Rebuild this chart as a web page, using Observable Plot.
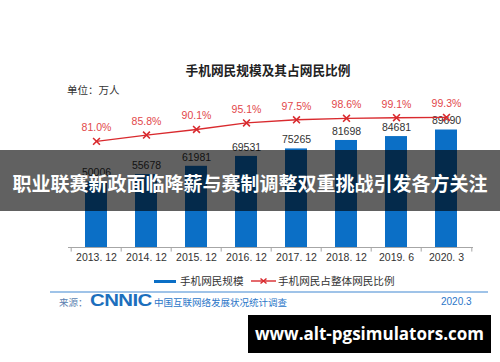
<!DOCTYPE html>
<html>
<head>
<meta charset="utf-8">
<script src="https://cdn.jsdelivr.net/npm/d3@7"></script>
<script src="https://cdn.jsdelivr.net/npm/@observablehq/plot@0.6"></script>
<style>
  html, body { margin: 0; padding: 0; background: #fff; }
  #page { position: relative; width: 500px; height: 362px; overflow: hidden; background: #fff;
          font-family: "Liberation Sans", "Noto Sans CJK SC", sans-serif; }
  .abs { position: absolute; white-space: nowrap; }
  #chart { position: absolute; left: 0; top: 95px; }
</style>
</head>
<body>
<div id="page">
  <div class="abs" id="title" style="left:0;width:536px;text-align:center;top:61px;font-size:12.7px;font-weight:bold;color:#222;font-family:'Noto Sans CJK SC',sans-serif;line-height:18px;"></div>
  <div class="abs" id="unit" style="left:67px;top:82px;font-size:10.5px;color:#333;font-family:'Noto Sans CJK SC',sans-serif;line-height:16px;"></div>
  <div id="chart"></div>
  <div class="abs" id="legend" style="left:0;top:273px;height:16px;width:500px;font-family:'Noto Sans CJK SC',sans-serif;font-size:10.6px;color:#333;line-height:16px;"></div>
  <div class="abs" style="left:50px;top:290.5px;width:438px;height:2px;background:#9fc3e8;"></div>
  <div class="abs" id="footer" style="left:0;top:293px;width:500px;height:18px;"></div>
  <div class="abs" id="banner" style="left:0;top:150px;width:500px;height:61px;background:rgba(0,0,0,0.62);color:#fff;font-family:'Noto Sans CJK SC',sans-serif;font-weight:bold;font-size:19px;line-height:61px;text-align:center;padding-top:2px;box-sizing:border-box;"></div>
  <div class="abs" id="site" style="left:248px;top:315px;width:243px;height:38px;background:#000;color:#fff;font-family:'Open Sans',sans-serif;font-weight:bold;font-size:17px;line-height:38px;text-align:center;"></div>
</div>
<script>
// ---- data ----
const periods = ["2013. 12", "2014. 12", "2015. 12", "2016. 12", "2017. 12", "2018. 12", "2019. 6", "2020. 3"];
const users = [50006, 55678, 61981, 69531, 75265, 81698, 84681, 89690];
const shares = [81.0, 85.8, 90.1, 95.1, 97.5, 98.6, 99.1, 99.3];

const titleText = "手机网民规模及其占网民比例";
const unitText = "单位：万人";
const seriesBar = "手机网民规模";
const seriesLine = "手机网民占整体网民比例";
const sourceLabel = "来源：";
const sourceLogo = "CNNIC";
const sourceName = "中国互联网络发展状况统计调查";
const sourceDate = "2020.3";
const bannerText = "职业联赛新政面临降薪与赛制调整双重挑战引发各方关注";
const siteText = "www.alt-pgsimulators.com";

const data = periods.map((p, i) => ({period: p, users: users[i], share: shares[i]}));

const blue = "#0b6fc6";
const red = "#d92a2e";
const redText = "#e2474a";

const W = 500, H = 172, mL = 68, mR = 27, mT = 21, mB = 20;
const step = (W - mL - mR) / periods.length;

const chart = Plot.plot({
  width: W,
  height: H,
  marginLeft: mL,
  marginRight: mR,
  marginTop: mT,
  marginBottom: mB,
  style: {fontFamily: "'Liberation Sans', 'Noto Sans CJK SC', sans-serif", background: "transparent", overflow: "visible"},
  x: {domain: periods, paddingInner: 0.565, paddingOuter: 0.2825, label: null},
  y: {domain: [0, 100000], axis: null, label: null},
  marks: [
    Plot.barY(data, {x: "period", y: "users", fill: blue}),
    Plot.ruleY([0], {stroke: "#a6a6a6", strokeWidth: 1}),
    Plot.ruleX(data, {x: "period", dx: -step / 2, y1: 0, y2: -3500, stroke: "#a6a6a6"}),
    Plot.ruleX(data.slice(-1), {x: "period", dx: step / 2, y1: 0, y2: -3500, stroke: "#a6a6a6"}),
    Plot.axisX({tickSize: 0, tickPadding: 6, fontSize: 10.5, fill: "#333", label: null}),
    Plot.text(data, {x: "period", y: "users", text: d => String(d.users), dy: -9, fontSize: 10.5, fill: "#333"}),
    Plot.line(data, {x: "period", y: d => d.share * 1000, stroke: red, strokeWidth: 1.4}),
    Plot.dot(data, {x: "period", y: d => d.share * 1000, symbol: "times", r: 3.2, stroke: red, strokeWidth: 1.6}),
    Plot.text(data, {x: "period", y: d => d.share * 1000, text: d => d.share.toFixed(1) + "%", dy: -13.5, fontSize: 10.5, fill: redText})
  ]
});
document.getElementById("chart").appendChild(chart);

document.getElementById("title").textContent = titleText;
document.getElementById("unit").textContent = unitText;
document.getElementById("banner").textContent = bannerText;
document.getElementById("site").textContent = siteText;

// legend
const legend = document.getElementById("legend");
legend.innerHTML = `
  <div class="abs" style="left:154px;top:7px;width:22px;height:3px;background:${blue};"></div>
  <div class="abs" style="left:180px;top:0;"></div>
  <svg class="abs" style="left:251px;top:2px;" width="25" height="12"><line x1="0" y1="6" x2="25" y2="6" stroke="${red}" stroke-width="1.4"/><path d="M9.5,3.5L15.5,8.5M15.5,3.5L9.5,8.5" stroke="${red}" stroke-width="1.5"/></svg>
  <div class="abs" style="left:278px;top:0;"></div>`;
const lt = legend.querySelectorAll("div.abs");
lt[1].textContent = seriesBar;
lt[2].textContent = seriesLine;

// footer
const footer = document.getElementById("footer");
footer.innerHTML = `
  <div class="abs" style="left:59px;top:1px;font-size:9.5px;color:#5b7fb0;font-family:'Noto Sans CJK SC',sans-serif;line-height:16px;"></div>
  <div class="abs" style="left:90px;top:-2px;font-size:17px;font-weight:900;color:#1c6fbd;font-family:'Liberation Sans',sans-serif;line-height:20px;transform:scaleX(1.2);transform-origin:0 50%;letter-spacing:-0.5px;"></div>
  <div class="abs" style="left:154px;top:1px;font-size:9.5px;color:#2b76c8;font-family:'Noto Sans CJK SC',sans-serif;line-height:16px;"></div>
  <div class="abs" style="left:441px;top:1px;font-size:10px;color:#2b76c8;font-family:'Liberation Sans',sans-serif;line-height:16px;"></div>`;
const ft = footer.querySelectorAll("div.abs");
ft[0].textContent = sourceLabel;
ft[1].textContent = sourceLogo;
ft[2].textContent = sourceName;
ft[3].textContent = sourceDate;
</script>
</body>
</html>
